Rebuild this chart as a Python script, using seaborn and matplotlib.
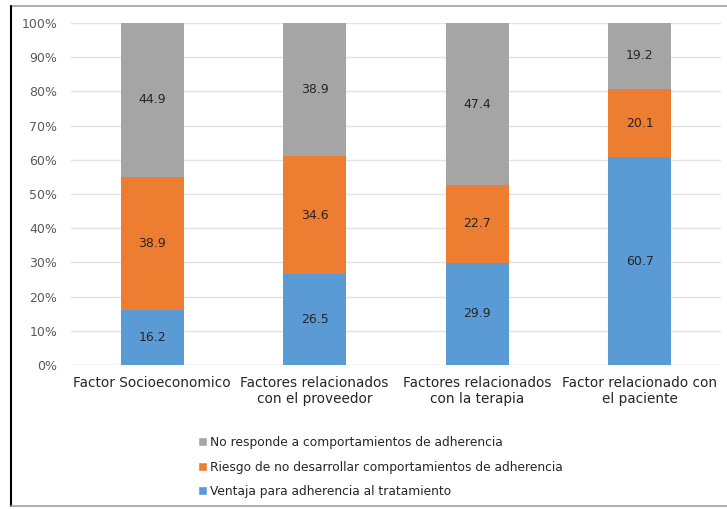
import matplotlib
matplotlib.use("Agg")
import matplotlib.pyplot as plt
import seaborn as sns
import numpy as np
import pandas as pd
from matplotlib.patches import Patch
from matplotlib.lines import Line2D

categories = ["Factor Socioeconomico", "Factores relacionados\ncon el proveedor",
              "Factores relacionados\ncon la terapia", "Factor relacionado con\nel paciente"]
ventaja = [16.2, 26.5, 29.9, 60.7]
riesgo = [38.9, 34.6, 22.7, 20.1]
no_responde = [44.9, 38.9, 47.4, 19.2]
series_names = ["No responde a comportamientos de adherencia",
                "Riesgo de no desarrollar comportamientos de adherencia",
                "Ventaja para adherencia al tratamiento"]
colors = {"gray": "#A5A5A5", "orange": "#ED7D31", "blue": "#5B9BD5"}
yticks = [0, 10, 20, 30, 40, 50, 60, 70, 80, 90, 100]

sns.set_theme(style="white")
plt.rcParams['font.family'] = ['DejaVu Sans']

v = np.array(ventaja); r = np.array(riesgo); n = np.array(no_responde)
df = pd.DataFrame({
    "cat": categories,
    "blue": v,
    "orange": v + r,
    "gray": v + r + n,
})

fig = plt.figure(figsize=(7.27, 5.09), dpi=100)
ax = fig.add_axes([71/727, 1-365/509, 650/727, 342/509])

for key in ["gray", "orange", "blue"]:
    sns.barplot(data=df, x="cat", y=key, color=colors[key], width=0.39,
                saturation=1, ax=ax, zorder=3, edgecolor="none", linewidth=0)

# labels at segment centers
for i in range(len(categories)):
    for bottom, val in [(0, v[i]), (v[i], r[i]), (v[i] + r[i], n[i])]:
        ax.text(i, bottom + val / 2, f"{val:.1f}", ha="center", va="center",
                fontsize=9, color="#262626", zorder=5)

ax.set_ylim(0, 100)
ax.set_xlim(-0.5, 3.5)
ax.set_yticks(yticks)
ax.set_yticklabels([f"{t}%" for t in yticks], fontsize=9, color="#595959")
ax.tick_params(axis="x", labelsize=9.8, colors="#262626", pad=8, length=0)
ax.tick_params(axis="y", length=0, pad=10)
ax.set_xlabel(""); ax.set_ylabel("")
ax.yaxis.grid(True, color="#E3E3E3", linewidth=1, zorder=0)
ax.set_axisbelow(True)
for s in ax.spines.values():
    s.set_visible(False)
ax.axhline(0, color="#E3E3E3", linewidth=1, zorder=1)

handles = [Patch(facecolor=colors["gray"]), Patch(facecolor=colors["orange"]),
           Patch(facecolor=colors["blue"])]
fig.legend(handles, series_names, loc="upper left",
           bbox_to_anchor=(187/727, 1-425/509), frameon=False, fontsize=8.8,
           handlelength=0.75, handleheight=0.75, handletextpad=0.25,
           labelspacing=0.95, labelcolor="#262626")

# outer border
fig.add_artist(Line2D([11/727, 1], [1-6/509, 1-6/509], color="#A0A0A0", lw=1.2))
fig.add_artist(Line2D([11/727, 11/727], [1-506/509, 1-6/509], color="#000000", lw=1.5))
fig.add_artist(Line2D([11/727, 1], [1-506/509, 1-506/509], color="#A0A0A0", lw=1.2))

fig.savefig("out.png", dpi=100)
